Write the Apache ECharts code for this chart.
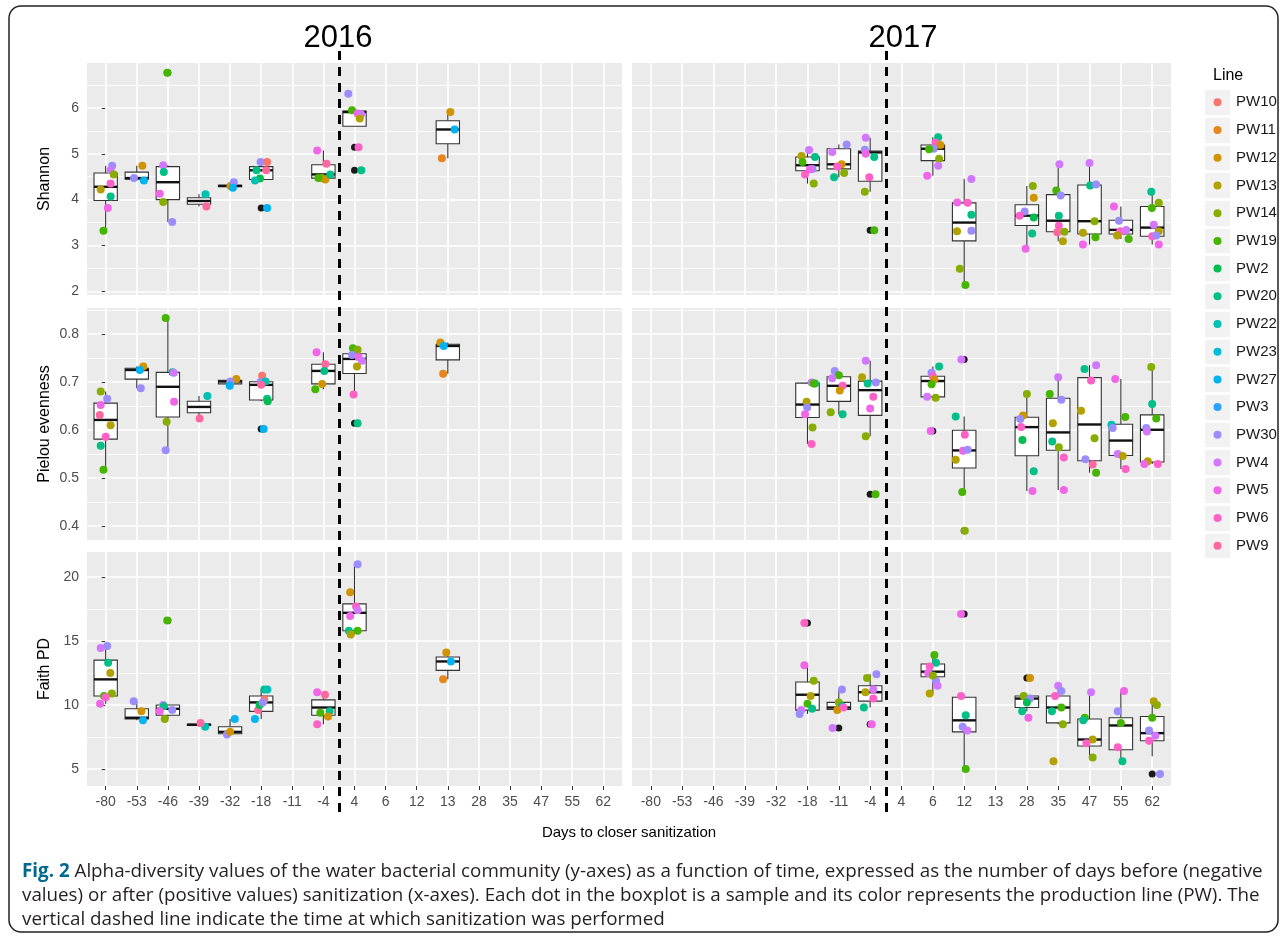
<!DOCTYPE html>
<html>
<head>
<meta charset="utf-8">
<script src="https://cdn.jsdelivr.net/npm/echarts@6/dist/echarts.min.js"></script>
<style>
html, body { margin: 0; padding: 0; background: #fff; }
#chart { width: 1281px; height: 938px; }
</style>
</head>
<body>
<div id="chart"></div>
<script>
var categories = ['-80', '-53', '-46', '-39', '-32', '-18', '-11', '-4', '4', '6', '12', '13', '28', '35', '47', '55', '62'];
var lines = ['PW10', 'PW11', 'PW12', 'PW13', 'PW14', 'PW19', 'PW2', 'PW20', 'PW22', 'PW23', 'PW27', 'PW3', 'PW30', 'PW4', 'PW5', 'PW6', 'PW9'];
var lineColors = ['#F8766D', '#E7851E', '#D09400', '#B2A100', '#89AC00', '#45B500', '#00BC51', '#00C087', '#00C0B2', '#00BCD6', '#00B3F2', '#29A3FF', '#9C8DFF', '#D277FF', '#F166E8', '#FF61C7', '#FF689E'];
var years = ['2016', '2017'];
var metrics = ['Shannon', 'Pielou evenness', 'Faith PD'];
var shannonTicks = [2, 3, 4, 5, 6];
var pielouTicks = [0.4, 0.5, 0.6, 0.7, 0.8];
var faithTicks = [5, 10, 15, 20];
var lastDayBefore = '-4';

// boxes: [day, lower whisker, q1, median, q3, upper whisker]
// points: [day, jitter, value, line]
var shannonBox2016 = [['-80', 3.32, 3.98, 4.28, 4.58, 4.74], ['-53', 4.42, 4.445, 4.47, 4.6, 4.74], ['-46', 3.51, 4.0, 4.38, 4.72, 4.75],
  ['-39', 3.85, 3.9, 3.97, 4.04, 4.12], ['-32', 4.26, 4.28, 4.3, 4.31, 4.38], ['-18', 4.42, 4.44, 4.64, 4.72, 4.82],
  ['-4', 4.44, 4.47, 4.55, 4.76, 5.07], ['4', 5.6, 5.6, 5.91, 5.93, 5.95], ['13', 4.9, 5.22, 5.53, 5.72, 5.91]];
var shannonOut2016 = [['-46', 6.77], ['-18', 3.82], ['4', 5.14], ['4', 4.64]];
var shannonPts2016 = [
  ['-80', 0.21, 4.74, 'PW30'], ['-80', 0.16, 4.64, 'PW4'], ['-80', 0.26, 4.55, 'PW14'], ['-80', -0.16, 4.22, 'PW13'], ['-80', 0.16, 4.35, 'PW6'], ['-80', 0.16, 4.07, 'PW20'], ['-80', 0.07, 3.82, 'PW5'], ['-80', -0.07, 3.32, 'PW19'],
  ['-53', 0.18, 4.74, 'PW12'], ['-53', -0.09, 4.47, 'PW30'], ['-53', 0.23, 4.42, 'PW27'],
  ['-46', -0.02, 6.77, 'PW19'], ['-46', -0.15, 4.75, 'PW4'], ['-46', -0.13, 4.6, 'PW20'], ['-46', -0.26, 4.13, 'PW5'], ['-46', -0.15, 3.95, 'PW14'], ['-46', 0.14, 3.51, 'PW30'],
  ['-39', 0.21, 4.12, 'PW22'], ['-39', 0.24, 3.85, 'PW9'],
  ['-32', 0.01, 4.3, 'PW12'], ['-32', 0.12, 4.38, 'PW30'], ['-32', 0.09, 4.26, 'PW27'],
  ['-18', -0.02, 4.82, 'PW30'], ['-18', 0.19, 4.82, 'PW10'], ['-18', -0.15, 4.64, 'PW20'], ['-18', 0.16, 4.64, 'PW9'], ['-18', -0.04, 4.46, 'PW2'], ['-18', -0.2, 4.42, 'PW22'], ['-18', 0.19, 3.82, 'PW27'],
  ['-4', -0.2, 5.07, 'PW5'], ['-4', 0.1, 4.78, 'PW9'], ['-4', -0.04, 4.47, 'PW14'], ['-4', 0.06, 4.44, 'PW12'], ['-4', 0.22, 4.55, 'PW20'], ['-4', -0.16, 4.47, 'PW19'],
  ['4', -0.2, 6.31, 'PW30'], ['4', -0.08, 5.95, 'PW19'], ['4', 0.1, 5.88, 'PW5'], ['4', 0.21, 5.86, 'PW4'], ['4', 0.17, 5.77, 'PW13'], ['4', 0.13, 5.14, 'PW6'], ['4', 0.22, 4.64, 'PW20'],
  ['13', 0.08, 5.91, 'PW12'], ['13', 0.22, 5.53, 'PW27'], ['13', -0.19, 4.9, 'PW11']];

var shannonBox2017 = [['-18', 4.35, 4.63, 4.75, 4.93, 5.08], ['-11', 4.49, 4.67, 4.77, 5.11, 5.2], ['-4', 4.17, 4.4, 5.03, 5.06, 5.35],
  ['6', 4.52, 4.85, 5.11, 5.19, 5.36], ['12', 2.14, 3.1, 3.5, 3.93, 4.45], ['28', 2.93, 3.435, 3.65, 3.89, 4.3],
  ['35', 3.09, 3.3, 3.54, 4.11, 4.77], ['47', 3.02, 3.25, 3.53, 4.32, 4.8], ['55', 3.14, 3.25, 3.34, 3.55, 3.85], ['62', 3.02, 3.2, 3.39, 3.85, 4.17]];
var shannonOut2017 = [['-4', 3.33]];
var shannonPts2017 = [
  ['-18', 0.05, 5.08, 'PW4'], ['-18', -0.19, 4.95, 'PW13'], ['-18', 0.24, 4.93, 'PW20'], ['-18', -0.16, 4.82, 'PW19'], ['-18', 0.16, 4.67, 'PW30'], ['-18', 0.08, 4.66, 'PW5'], ['-18', -0.08, 4.55, 'PW6'], ['-18', 0.2, 4.35, 'PW14'],
  ['-11', 0.25, 5.2, 'PW30'], ['-11', -0.21, 5.04, 'PW4'], ['-11', 0.09, 4.77, 'PW12'], ['-11', -0.05, 4.72, 'PW6'], ['-11', 0.17, 4.58, 'PW14'], ['-11', -0.15, 4.49, 'PW20'],
  ['-4', -0.14, 5.35, 'PW4'], ['-4', -0.17, 5.09, 'PW30'], ['-4', -0.14, 5.0, 'PW5'], ['-4', 0.13, 4.93, 'PW20'], ['-4', -0.03, 4.49, 'PW6'], ['-4', -0.17, 4.17, 'PW14'], ['-4', 0.13, 3.33, 'PW19'],
  ['6', 0.17, 5.36, 'PW20'], ['6', 0.09, 5.24, 'PW6'], ['6', 0.24, 5.19, 'PW12'], ['6', 0.03, 5.11, 'PW30'], ['6', -0.12, 5.1, 'PW19'], ['6', 0.2, 4.89, 'PW14'], ['6', 0.17, 4.74, 'PW4'], ['6', -0.18, 4.52, 'PW5'],
  ['12', 0.23, 4.45, 'PW4'], ['12', -0.22, 3.94, 'PW5'], ['12', 0.11, 3.93, 'PW6'], ['12', 0.23, 3.67, 'PW20'], ['12', 0.23, 3.32, 'PW30'], ['12', -0.23, 3.31, 'PW13'], ['12', -0.14, 2.49, 'PW14'], ['12', 0.04, 2.14, 'PW19'],
  ['28', 0.19, 4.3, 'PW14'], ['28', 0.22, 4.04, 'PW12'], ['28', -0.07, 3.74, 'PW30'], ['28', -0.23, 3.65, 'PW6'], ['28', 0.22, 3.61, 'PW2'], ['28', 0.17, 3.26, 'PW20'], ['28', -0.04, 2.93, 'PW5'],
  ['35', 0.04, 4.77, 'PW4'], ['35', -0.06, 4.2, 'PW19'], ['35', 0.08, 4.09, 'PW30'], ['35', 0.02, 3.65, 'PW20'], ['35', 0.02, 3.43, 'PW6'], ['35', -0.03, 3.29, 'PW9'], ['35', 0.2, 3.3, 'PW14'], ['35', 0.15, 3.09, 'PW13'],
  ['47', 0, 4.8, 'PW4'], ['47', 0.02, 4.31, 'PW20'], ['47', 0.21, 4.33, 'PW30'], ['47', 0.16, 3.53, 'PW14'], ['47', -0.21, 3.28, 'PW13'], ['47', 0.19, 3.18, 'PW19'], ['47', -0.21, 3.02, 'PW5'],
  ['55', -0.22, 3.85, 'PW5'], ['55', -0.06, 3.54, 'PW30'], ['55', -0.02, 3.31, 'PW6'], ['55', -0.12, 3.22, 'PW13'], ['55', 0.25, 3.14, 'PW19'], ['55', 0.17, 3.34, 'PW4'],
  ['62', -0.03, 4.17, 'PW20'], ['62', 0.21, 3.93, 'PW14'], ['62', -0.01, 3.82, 'PW19'], ['62', 0.05, 3.45, 'PW4'], ['62', 0, 3.2, 'PW6'], ['62', 0.21, 3.31, 'PW13'], ['62', 0.13, 3.22, 'PW30'], ['62', 0.21, 3.02, 'PW5']];

var pielouBox2016 = [['-80', 0.517, 0.581, 0.621, 0.656, 0.68], ['-53', 0.687, 0.706, 0.725, 0.7285, 0.732], ['-46', 0.558, 0.627, 0.69, 0.72, 0.833],
  ['-39', 0.624, 0.636, 0.648, 0.66, 0.671], ['-32', 0.692, 0.696, 0.701, 0.7035, 0.706], ['-18', 0.66, 0.6625, 0.694, 0.7005, 0.713],
  ['-4', 0.685, 0.696, 0.723, 0.737, 0.762], ['4', 0.674, 0.7175, 0.748, 0.7587, 0.77], ['13', 0.717, 0.746, 0.775, 0.7785, 0.782]];
var pielouOut2016 = [['-18', 0.602], ['4', 0.614]];
var pielouPts2016 = [
  ['-80', -0.16, 0.68, 'PW14'], ['-80', 0.05, 0.665, 'PW30'], ['-80', -0.16, 0.652, 'PW5'], ['-80', -0.19, 0.631, 'PW9'], ['-80', 0.16, 0.61, 'PW13'], ['-80', 0, 0.586, 'PW6'], ['-80', -0.16, 0.567, 'PW20'], ['-80', -0.07, 0.517, 'PW19'],
  ['-53', 0.21, 0.732, 'PW12'], ['-53', 0.1, 0.725, 'PW27'], ['-53', 0.13, 0.687, 'PW30'],
  ['-46', -0.07, 0.833, 'PW19'], ['-46', 0.15, 0.72, 'PW20'], ['-46', 0.19, 0.719, 'PW4'], ['-46', 0.2, 0.659, 'PW5'], ['-46', -0.04, 0.617, 'PW14'], ['-46', -0.07, 0.558, 'PW30'],
  ['-39', 0.27, 0.671, 'PW22'], ['-39', 0.02, 0.624, 'PW9'],
  ['-32', 0.2, 0.706, 'PW12'], ['-32', 0.01, 0.701, 'PW30'], ['-32', -0.01, 0.692, 'PW27'],
  ['-18', 0.03, 0.713, 'PW10'], ['-18', -0.02, 0.70, 'PW30'], ['-18', 0.14, 0.701, 'PW22'], ['-18', 0, 0.694, 'PW9'], ['-18', 0.19, 0.665, 'PW20'], ['-18', 0.21, 0.66, 'PW2'], ['-18', 0.08, 0.602, 'PW27'],
  ['-4', -0.22, 0.762, 'PW5'], ['-4', 0.06, 0.737, 'PW9'], ['-4', 0.03, 0.723, 'PW20'], ['-4', -0.04, 0.696, 'PW12'], ['-4', -0.26, 0.685, 'PW19'],
  ['4', -0.05, 0.77, 'PW19'], ['4', 0.1, 0.767, 'PW14'], ['4', -0.08, 0.756, 'PW30'], ['4', 0.13, 0.752, 'PW5'], ['4', 0.24, 0.744, 'PW4'], ['4', 0.08, 0.732, 'PW13'], ['4', -0.03, 0.674, 'PW6'], ['4', 0.1, 0.614, 'PW20'],
  ['13', -0.24, 0.782, 'PW12'], ['13', -0.13, 0.775, 'PW27'], ['13', -0.15, 0.717, 'PW11']];

var pielouBox2017 = [['-18', 0.571, 0.626, 0.653, 0.6975, 0.699], ['-11', 0.633, 0.6595, 0.692, 0.711, 0.723], ['-4', 0.587, 0.6305, 0.683, 0.7018, 0.744],
  ['6', 0.667, 0.669, 0.702, 0.712, 0.732], ['12', 0.471, 0.521, 0.5575, 0.5995, 0.628], ['28', 0.473, 0.5465, 0.606, 0.6265, 0.675],
  ['35', 0.475, 0.558, 0.595, 0.666, 0.71], ['47', 0.511, 0.536, 0.6115, 0.709, 0.735], ['55', 0.519, 0.547, 0.578, 0.612, 0.706], ['62', 0.529, 0.5335, 0.6005, 0.6315, 0.731]];
var pielouOut2017 = [['-4', 0.466], ['6', 0.598], ['12', 0.747], ['12', 0.39]];
var pielouPts2017 = [
  ['-18', 0.13, 0.699, 'PW4'], ['-18', 0.24, 0.697, 'PW20'], ['-18', 0.2, 0.697, 'PW19'], ['-18', -0.03, 0.659, 'PW13'], ['-18', -0.01, 0.647, 'PW30'], ['-18', -0.08, 0.633, 'PW5'], ['-18', 0.16, 0.605, 'PW14'], ['-18', 0.13, 0.571, 'PW6'],
  ['-11', -0.13, 0.723, 'PW30'], ['-11', 0, 0.714, 'PW19'], ['-11', -0.21, 0.708, 'PW4'], ['-11', 0.12, 0.692, 'PW6'], ['-11', 0.03, 0.682, 'PW12'], ['-11', -0.26, 0.637, 'PW14'], ['-11', 0.12, 0.633, 'PW20'],
  ['-4', -0.14, 0.744, 'PW4'], ['-4', -0.26, 0.71, 'PW13'], ['-4', 0.18, 0.699, 'PW30'], ['-4', -0.08, 0.697, 'PW20'], ['-4', 0.1, 0.669, 'PW6'], ['-4', 0, 0.645, 'PW5'], ['-4', -0.14, 0.587, 'PW14'], ['-4', 0.17, 0.466, 'PW19'],
  ['6', 0.2, 0.732, 'PW20'], ['6', -0.04, 0.719, 'PW30'], ['6', 0, 0.712, 'PW6'], ['6', 0.05, 0.705, 'PW12'], ['6', -0.04, 0.695, 'PW19'], ['6', -0.18, 0.669, 'PW4'], ['6', 0.09, 0.667, 'PW14'], ['6', -0.07, 0.598, 'PW5'],
  ['12', -0.09, 0.747, 'PW4'], ['12', -0.27, 0.628, 'PW20'], ['12', 0.02, 0.59, 'PW6'], ['12', -0.04, 0.557, 'PW5'], ['12', 0.11, 0.559, 'PW30'], ['12', -0.27, 0.538, 'PW13'], ['12', -0.06, 0.471, 'PW19'], ['12', 0.02, 0.39, 'PW14'],
  ['28', 0, 0.675, 'PW14'], ['28', -0.12, 0.63, 'PW12'], ['28', -0.21, 0.623, 'PW30'], ['28', -0.18, 0.606, 'PW6'], ['28', -0.14, 0.579, 'PW2'], ['28', 0.22, 0.514, 'PW20'], ['28', 0.18, 0.473, 'PW5'],
  ['35', 0, 0.71, 'PW4'], ['35', -0.27, 0.675, 'PW19'], ['35', 0.1, 0.663, 'PW30'], ['35', -0.17, 0.614, 'PW13'], ['35', -0.19, 0.576, 'PW20'], ['35', 0.02, 0.564, 'PW14'], ['35', 0.18, 0.543, 'PW6'], ['35', 0.18, 0.475, 'PW5'],
  ['47', 0.21, 0.735, 'PW4'], ['47', -0.16, 0.727, 'PW20'], ['47', 0.05, 0.703, 'PW6'], ['47', -0.27, 0.64, 'PW13'], ['47', 0.16, 0.583, 'PW14'], ['47', -0.13, 0.539, 'PW30'], ['47', 0.1, 0.528, 'PW9'], ['47', 0.21, 0.511, 'PW19'],
  ['55', -0.18, 0.706, 'PW5'], ['55', 0.14, 0.627, 'PW19'], ['55', -0.3, 0.611, 'PW22'], ['55', -0.26, 0.604, 'PW30'], ['55', -0.1, 0.55, 'PW4'], ['55', 0.06, 0.546, 'PW13'], ['55', 0.15, 0.519, 'PW6'],
  ['62', -0.03, 0.731, 'PW14'], ['62', 0, 0.654, 'PW20'], ['62', 0.13, 0.624, 'PW19'], ['62', -0.19, 0.604, 'PW30'], ['62', -0.17, 0.597, 'PW4'], ['62', -0.14, 0.535, 'PW13'], ['62', -0.25, 0.529, 'PW5'], ['62', 0.18, 0.529, 'PW6']];

var faithBox2016 = [['-80', 10.1, 10.7, 12.0, 13.5, 14.6], ['-53', 8.8, 8.9, 9.0, 9.7, 10.3], ['-46', 8.9, 9.2, 9.7, 10.0, 10.0],
  ['-39', 8.3, 8.4, 8.45, 8.5, 8.6], ['-32', 7.7, 7.75, 7.9, 8.3, 8.9], ['-18', 8.9, 9.5, 10.2, 10.7, 11.2],
  ['-4', 8.5, 9.2, 9.8, 10.4, 11.0], ['4', 15.5, 15.8, 17.2, 17.9, 21.0], ['13', 12.0, 12.7, 13.4, 13.75, 14.1]];
var faithOut2016 = [['-46', 16.6]];
var faithPts2016 = [
  ['-80', -0.16, 14.45, 'PW4'], ['-80', 0.05, 14.6, 'PW30'], ['-80', 0.08, 13.3, 'PW20'], ['-80', 0.15, 12.5, 'PW13'], ['-80', 0.2, 10.9, 'PW14'], ['-80', -0.05, 10.7, 'PW19'], ['-80', -0.18, 10.1, 'PW5'], ['-80', 0, 10.6, 'PW6'],
  ['-53', 0.15, 9.5, 'PW12'], ['-53', -0.1, 10.3, 'PW30'], ['-53', 0.2, 8.8, 'PW27'],
  ['-46', -0.02, 16.6, 'PW19'], ['-46', -0.15, 10.0, 'PW4'], ['-46', -0.13, 9.9, 'PW20'], ['-46', -0.26, 9.5, 'PW5'], ['-46', -0.1, 8.9, 'PW14'], ['-46', 0.14, 9.6, 'PW30'],
  ['-39', 0.2, 8.3, 'PW22'], ['-39', 0.05, 8.6, 'PW9'],
  ['-32', 0.15, 8.9, 'PW27'], ['-32', -0.1, 7.7, 'PW30'], ['-32', 0, 7.9, 'PW12'],
  ['-18', 0.1, 11.2, 'PW20'], ['-18', 0.2, 11.2, 'PW22'], ['-18', 0.1, 10.4, 'PW10'], ['-18', -0.1, 9.6, 'PW9'], ['-18', -0.05, 10.0, 'PW2'], ['-18', 0.05, 10.2, 'PW30'], ['-18', -0.2, 8.9, 'PW27'],
  ['-4', -0.2, 11.0, 'PW5'], ['-4', 0.05, 10.8, 'PW9'], ['-4', 0.2, 9.5, 'PW20'], ['-4', -0.1, 9.4, 'PW19'], ['-4', 0.15, 9.1, 'PW12'], ['-4', -0.2, 8.5, 'PW6'],
  ['4', 0.1, 21.0, 'PW30'], ['4', -0.14, 18.8, 'PW12'], ['4', 0.05, 17.7, 'PW6'], ['4', -0.14, 16.95, 'PW5'], ['4', -0.18, 15.8, 'PW20'], ['4', 0.1, 15.8, 'PW19'], ['4', -0.12, 15.5, 'PW13'], ['4', 0.1, 17.4, 'PW4'],
  ['13', -0.05, 14.1, 'PW12'], ['13', 0.1, 13.4, 'PW27'], ['13', -0.15, 12.0, 'PW11']];

var faithBox2017 = [['-18', 9.3, 9.6, 10.8, 11.8, 13.1], ['-11', 9.6, 9.65, 9.8, 10.2, 11.2], ['-4', 9.8, 10.3, 11.0, 11.5, 12.4],
  ['6', 10.9, 12.2, 12.6, 13.2, 13.9], ['12', 5.0, 7.9, 8.8, 10.6, 10.7], ['28', 9.5, 9.8, 10.5, 10.7, 10.8],
  ['35', 8.5, 8.6, 9.8, 10.7, 11.5], ['47', 5.9, 6.8, 7.3, 8.9, 11.0], ['55', 5.6, 6.5, 8.4, 9.0, 11.1], ['62', 6.0, 7.2, 7.8, 9.1, 10.3]];
var faithOut2017 = [['-18', 16.4], ['-11', 8.2], ['-4', 8.5], ['12', 17.1], ['28', 12.1], ['62', 4.6]];
var faithPts2017 = [
  ['-18', -0.1, 16.4, 'PW6'], ['-18', -0.1, 13.1, 'PW5'], ['-18', 0.2, 11.9, 'PW14'], ['-18', 0.1, 10.7, 'PW13'], ['-18', 0, 10.1, 'PW19'], ['-18', -0.2, 9.6, 'PW4'], ['-18', -0.25, 9.3, 'PW30'], ['-18', 0.15, 9.7, 'PW20'],
  ['-11', 0.1, 11.2, 'PW30'], ['-11', -0.2, 8.2, 'PW4'], ['-11', 0, 10.2, 'PW14'], ['-11', 0.1, 9.9, 'PW20'], ['-11', -0.05, 9.6, 'PW12'], ['-11', 0.15, 9.8, 'PW6'],
  ['-4', 0.2, 12.4, 'PW30'], ['-4', -0.1, 12.1, 'PW14'], ['-4', -0.15, 11.0, 'PW13'], ['-4', 0.1, 10.5, 'PW6'], ['-4', -0.2, 9.8, 'PW20'], ['-4', 0.05, 8.5, 'PW5'], ['-4', 0.1, 11.2, 'PW4'],
  ['6', 0.05, 13.9, 'PW19'], ['6', 0.1, 13.3, 'PW20'], ['6', -0.1, 13.0, 'PW6'], ['6', -0.15, 12.5, 'PW5'], ['6', 0.1, 11.9, 'PW30'], ['6', 0.15, 11.5, 'PW4'], ['6', -0.1, 10.9, 'PW13'], ['6', 0, 12.3, 'PW14'],
  ['12', -0.1, 17.1, 'PW5'], ['12', -0.1, 10.7, 'PW6'], ['12', 0.05, 9.2, 'PW20'], ['12', -0.05, 8.3, 'PW30'], ['12', 0.1, 8.0, 'PW4'], ['12', 0.05, 5.0, 'PW19'],
  ['28', 0.1, 12.1, 'PW12'], ['28', -0.1, 10.7, 'PW14'], ['28', 0.1, 10.5, 'PW30'], ['28', 0, 10.2, 'PW2'], ['28', -0.15, 9.5, 'PW20'], ['28', 0.05, 9.0, 'PW5'],
  ['35', 0, 11.5, 'PW4'], ['35', 0.1, 11.1, 'PW30'], ['35', -0.1, 10.7, 'PW6'], ['35', 0.1, 9.8, 'PW19'], ['35', -0.2, 9.5, 'PW20'], ['35', 0.15, 8.5, 'PW14'], ['35', -0.15, 5.6, 'PW13'],
  ['47', 0.05, 11.0, 'PW4'], ['47', -0.15, 9.0, 'PW19'], ['47', -0.2, 8.8, 'PW20'], ['47', 0.1, 7.3, 'PW13'], ['47', -0.1, 7.0, 'PW6'], ['47', 0.1, 5.9, 'PW14'],
  ['55', 0.1, 11.1, 'PW5'], ['55', -0.1, 9.5, 'PW30'], ['55', 0, 8.6, 'PW19'], ['55', -0.1, 6.7, 'PW6'], ['55', 0.05, 5.6, 'PW20'],
  ['62', 0.05, 10.3, 'PW13'], ['62', 0.15, 10.0, 'PW14'], ['62', 0, 9.0, 'PW19'], ['62', -0.1, 8.0, 'PW30'], ['62', 0.1, 7.6, 'PW4'], ['62', -0.1, 7.2, 'PW6'], ['62', 0.25, 4.6, 'PW30']];

var panels = [
  {row: 0, col: 0, box: shannonBox2016, out: shannonOut2016, pts: shannonPts2016},
  {row: 0, col: 1, box: shannonBox2017, out: shannonOut2017, pts: shannonPts2017},
  {row: 1, col: 0, box: pielouBox2016, out: pielouOut2016, pts: pielouPts2016},
  {row: 1, col: 1, box: pielouBox2017, out: pielouOut2017, pts: pielouPts2017},
  {row: 2, col: 0, box: faithBox2016, out: faithOut2016, pts: faithPts2016},
  {row: 2, col: 1, box: faithBox2017, out: faithOut2017, pts: faithPts2017}
];

var rowTop = [63, 308, 552], rowHeight = [232, 232, 234];
var colLeft = [87, 632], colWidth = [535, 539];
var yMin = [1.92, 0.371, 3.67], yMax = [6.98, 0.854, 21.95];
var yTicks = [shannonTicks, pielouTicks, faithTicks];
var ySplit = [5, 5, 4];
var tickColor = '#4D4D4D';

function catIndex(day) {
  return categories.indexOf(day);
}

function renderBox(params, api) {
  var x = api.value(0);
  var lo = api.coord([x, api.value(1)]);
  var q1 = api.coord([x, api.value(2)]);
  var md = api.coord([x, api.value(3)]);
  var q3 = api.coord([x, api.value(4)]);
  var hi = api.coord([x, api.value(5)]);
  var half = api.size([0.75, 0])[0] / 2;
  var stroke = {stroke: '#333', lineWidth: 1.1};
  return {
    type: 'group',
    children: [
      {type: 'line', shape: {x1: hi[0], y1: hi[1], x2: q3[0], y2: q3[1]}, style: stroke},
      {type: 'line', shape: {x1: q1[0], y1: q1[1], x2: lo[0], y2: lo[1]}, style: stroke},
      {type: 'rect', shape: {x: md[0] - half, y: q3[1], width: 2 * half, height: q1[1] - q3[1]},
        style: {fill: '#fff', stroke: '#333', lineWidth: 1.1}},
      {type: 'line', shape: {x1: md[0] - half, y1: md[1], x2: md[0] + half, y2: md[1]},
        style: {stroke: '#111', lineWidth: 2.4}}
    ]
  };
}

var grids = [], xAxes = [], yAxes = [], series = [];

panels.forEach(function(p, k) {
  var left = colLeft[p.col], width = colWidth[p.col];
  var pad = width * 0.1 / 17.2;
  var g = grids.length;
  grids.push({left: left, top: rowTop[p.row], width: width, height: rowHeight[p.row],
    show: true, backgroundColor: '#EBEBEB', borderWidth: 0});
  grids.push({left: left + pad, top: rowTop[p.row], width: width - 2 * pad, height: rowHeight[p.row]});

  xAxes.push({type: 'value', gridIndex: g, min: -0.6, max: 16.6, show: false});
  xAxes.push({type: 'category', gridIndex: g + 1, data: categories, z: 1,
    axisLine: {show: false},
    axisTick: {show: p.row == 2, alignWithLabel: true, length: 4, lineStyle: {color: '#333'}},
    axisLabel: {show: p.row == 2, interval: 0, color: tickColor, fontSize: 14, margin: 9, fontFamily: 'Liberation Sans'},
    splitLine: {show: true, alignWithLabel: true, lineStyle: {color: '#fff', width: 1.6}}
  });

  yAxes.push({type: 'value', gridIndex: g, min: yMin[p.row], max: yMax[p.row], splitNumber: ySplit[p.row],
    name: p.col == 0 ? metrics[p.row] : '', nameLocation: 'middle', nameGap: 34,
    nameTextStyle: {color: '#000', fontSize: 16, fontFamily: 'Liberation Sans'},
    axisLine: {show: false},
    axisTick: {show: p.col == 0, length: 4, customValues: yTicks[p.row], lineStyle: {color: '#333'}},
    axisLabel: {show: p.col == 0, customValues: yTicks[p.row], color: tickColor, fontSize: 14, margin: 8,
      fontFamily: 'Liberation Sans', showMinLabel: true, showMaxLabel: true},
    splitLine: {show: true, lineStyle: {color: '#fff', width: 1.6}},
    minorTick: {show: false, splitNumber: 2},
    minorSplitLine: {show: true, lineStyle: {color: '#fff', width: 0.8}}
  });
  yAxes.push({type: 'value', gridIndex: g + 1, min: 0, max: 1, show: false});

  series.push({
    type: 'custom', xAxisIndex: g, yAxisIndex: g, silent: true, z: 3,
    renderItem: renderBox,
    encode: {x: 0, y: [1, 2, 3, 4, 5]},
    data: p.box.map(function(b) { return [catIndex(b[0]), b[1], b[2], b[3], b[4], b[5]]; })
  });
  series.push({
    type: 'scatter', xAxisIndex: g, yAxisIndex: g, silent: true, z: 4,
    symbolSize: 7, itemStyle: {color: '#1a1a1a', opacity: 1},
    data: p.out.map(function(o) { return [catIndex(o[0]), o[1]]; })
  });
  series.push({
    type: 'scatter', xAxisIndex: g, yAxisIndex: g, silent: true, z: 5,
    symbolSize: 8,
    itemStyle: {
      opacity: 1,
      color: function(d) { return lineColors[lines.indexOf(d.value[2])]; }
    },
    data: p.pts.map(function(q) { return [catIndex(q[0]) + q[1], q[2], q[3]]; })
  });
});

// dashed sanitization line, one full-height layer per year
[0, 1].forEach(function(col) {
  var g = grids.length;
  grids.push({left: colLeft[col], top: 45, width: colWidth[col], height: 767});
  xAxes.push({type: 'value', gridIndex: g, min: -0.6, max: 16.6, show: false});
  yAxes.push({type: 'value', gridIndex: g, min: 0, max: 1, show: false});
  series.push({
    type: 'scatter', xAxisIndex: g, yAxisIndex: g, silent: true, z: 6, data: [],
    markLine: {
      silent: true, symbol: 'none', animation: false,
      label: {show: false},
      lineStyle: {color: '#000', width: 3, type: [9, 7]},
      data: [{xAxis: catIndex(lastDayBefore) + 0.5}]
    }
  });
});

// legend as a small keyed grid
var lg = grids.length;
grids.push({left: 1205, top: 88.5, width: 25, height: 471, show: true, backgroundColor: '#F2F2F2', borderWidth: 0});
xAxes.push({type: 'value', gridIndex: lg, min: -1, max: 1, show: false});
yAxes.push({type: 'category', gridIndex: lg, data: lines, inverse: true, position: 'right',
  axisLine: {show: false}, axisTick: {show: false},
  axisLabel: {interval: 0, color: '#1a1a1a', fontSize: 15, margin: 6, fontFamily: 'Liberation Sans'},
  splitLine: {show: true, interval: 0, lineStyle: {color: '#fff', width: 2.6}}
});
series.push({
  type: 'scatter', xAxisIndex: lg, yAxisIndex: lg, silent: true, z: 5, symbolSize: 8,
  itemStyle: {opacity: 1, color: function(d) { return lineColors[lines.indexOf(d.value[1])]; }},
  data: lines.map(function(l) { return [0, l]; })
});

var chart = echarts.init(document.getElementById('chart'));
chart.setOption({
  animation: false,
  backgroundColor: '#fff',
  grid: grids,
  xAxis: xAxes,
  yAxis: yAxes,
  series: series,
  graphic: [
    {type: 'rect', shape: {x: 9, y: 6, width: 1269, height: 926, r: 12}, silent: true, z: -10,
      style: {fill: 'none', stroke: '#222', lineWidth: 1.5}},
    {type: 'text', x: 338, y: 38, silent: true,
      style: {text: years[0], font: '31px "Liberation Sans"', fill: '#000', textAlign: 'center', textVerticalAlign: 'middle'}},
    {type: 'text', x: 903, y: 38, silent: true,
      style: {text: years[1], font: '31px "Liberation Sans"', fill: '#000', textAlign: 'center', textVerticalAlign: 'middle'}},
    {type: 'text', x: 1213, y: 76, silent: true,
      style: {text: 'Line', font: '16px "Liberation Sans"', fill: '#000', textVerticalAlign: 'middle'}},
    {type: 'text', x: 629, y: 833, silent: true,
      style: {text: 'Days to closer sanitization', font: '15px "Liberation Sans"', fill: '#000', textAlign: 'center', textVerticalAlign: 'middle'}},
    {type: 'text', x: 22, y: 860, silent: true,
      style: {
        text: '{b|Fig. 2} Alpha-diversity values of the water bacterial community (y-axes) as a function of time, expressed as the number of days before (negative\n' +
          'values) or after (positive values) sanitization (x-axes). Each dot in the boxplot is a sample and its color represents the production line (PW). The\n' +
          'vertical dashed line indicate the time at which sanitization was performed',
        font: '18.8px "Open Sans"', fill: '#231f20', lineHeight: 24,
        rich: {b: {font: 'bold 18.8px "Open Sans"', fill: '#006a8e', lineHeight: 24}}
      }}
  ]
});
</script>
</body>
</html>
